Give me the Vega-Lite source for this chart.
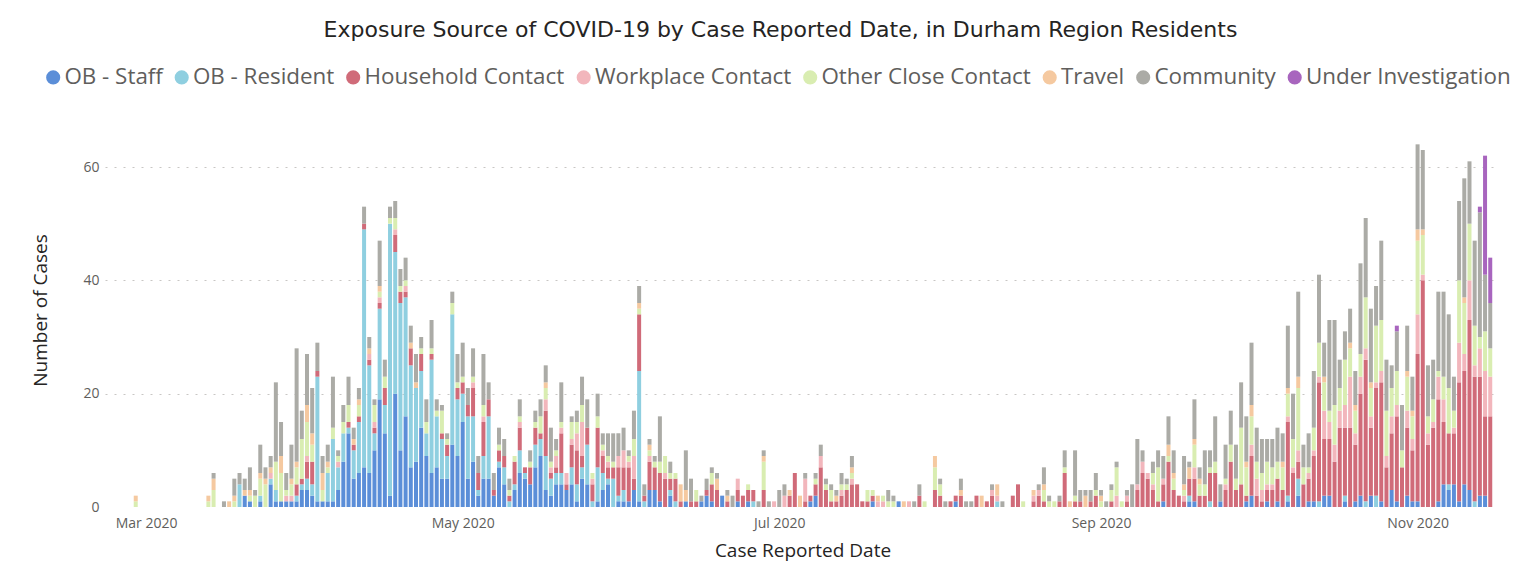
{
  "$schema": "https://vega.github.io/schema/vega-lite/v6.json",
  "width": 1395,
  "height": 374,
  "autosize": {"type": "none"},
  "padding": {"left": 105, "top": 133, "right": 24, "bottom": 60},
  "background": "white",
  "config": {"view": {"stroke": null}},
  "title": {
    "text": "Exposure Source of COVID-19 by Case Reported Date, in Durham Region Residents",
    "font": "DejaVu Sans",
    "fontSize": 22,
    "fontWeight": "normal",
    "color": "#252423",
    "anchor": "middle",
    "dx": -22,
    "offset": 24
  },
  "datasets": {
    "cats": [
      {"k": "s", "name": "OB - Staff", "ord": 1},
      {"k": "r", "name": "OB - Resident", "ord": 2},
      {"k": "h", "name": "Household Contact", "ord": 3},
      {"k": "w", "name": "Workplace Contact", "ord": 4},
      {"k": "o", "name": "Other Close Contact", "ord": 5},
      {"k": "t", "name": "Travel", "ord": 6},
      {"k": "c", "name": "Community", "ord": 7},
      {"k": "u", "name": "Under Investigation", "ord": 8}
    ]
  },
  "data": {"values": [
    {"d":"2020-02-28","o":1,"t":1},
    {"d":"2020-03-13","o":1,"t":1},
    {"d":"2020-03-14","o":3,"t":2,"c":1},
    {"d":"2020-03-16","c":1},
    {"d":"2020-03-17","t":1},
    {"d":"2020-03-18","o":1,"t":1,"c":3},
    {"d":"2020-03-19","r":4,"c":2},
    {"d":"2020-03-20","s":2,"t":1,"c":2},
    {"d":"2020-03-21","s":1,"o":1,"t":1,"c":4},
    {"d":"2020-03-22","o":2,"c":1},
    {"d":"2020-03-23","s":1,"r":1,"o":3,"t":1,"c":5},
    {"d":"2020-03-24","o":4,"t":1,"c":2},
    {"d":"2020-03-25","s":4,"r":1,"w":1,"t":1,"c":2},
    {"d":"2020-03-26","s":1,"r":2,"o":5,"c":14},
    {"d":"2020-03-27","s":1,"o":5,"t":3,"c":6},
    {"d":"2020-03-28","s":1,"w":1,"o":1,"c":3},
    {"d":"2020-03-29","s":1,"w":1,"o":2,"t":1,"c":6},
    {"d":"2020-03-30","s":1,"r":1,"h":2,"o":3,"t":1,"c":20},
    {"d":"2020-03-31","s":3,"r":1,"h":1,"o":7,"c":5},
    {"d":"2020-04-01","s":3,"r":2,"h":3,"w":1,"o":6,"t":3,"c":9},
    {"d":"2020-04-02","s":2,"r":2,"h":4,"o":3,"t":2,"c":8},
    {"d":"2020-04-03","s":1,"r":22,"h":1,"c":5},
    {"d":"2020-04-04","s":1,"o":2,"t":3,"c":3},
    {"d":"2020-04-05","s":1,"r":5,"o":1,"t":1,"c":3},
    {"d":"2020-04-06","s":1,"r":11,"o":2,"c":9},
    {"d":"2020-04-07","s":3,"r":4,"w":1,"o":1,"c":1},
    {"d":"2020-04-08","s":8,"r":5,"o":2,"c":3},
    {"d":"2020-04-09","s":13,"r":1,"h":1,"o":3,"c":5},
    {"d":"2020-04-10","s":5,"r":5,"h":1,"t":1,"c":2},
    {"d":"2020-04-11","s":6,"r":9,"h":1,"o":2,"t":1,"c":2},
    {"d":"2020-04-12","s":7,"r":42,"h":1,"c":3},
    {"d":"2020-04-13","s":6,"r":19,"h":1,"w":1,"t":1,"c":2},
    {"d":"2020-04-14","s":10,"r":3,"h":1,"w":1,"o":3,"c":1},
    {"d":"2020-04-15","s":19,"r":16,"h":1,"w":1,"o":1,"t":1,"c":8},
    {"d":"2020-04-16","s":13,"r":5,"h":3,"o":2,"c":3},
    {"d":"2020-04-17","s":2,"r":48,"o":1,"c":2},
    {"d":"2020-04-18","s":20,"r":25,"h":3,"w":1,"o":2,"c":3},
    {"d":"2020-04-19","s":10,"r":26,"h":2,"o":1,"c":3},
    {"d":"2020-04-20","s":16,"r":21,"h":1,"w":1,"o":1,"c":4},
    {"d":"2020-04-21","s":7,"r":18,"h":3,"t":1,"c":3},
    {"d":"2020-04-22","s":8,"r":13,"t":1,"c":5},
    {"d":"2020-04-23","s":14,"r":10,"h":3,"o":1,"c":2},
    {"d":"2020-04-24","s":9,"r":4,"o":2,"c":4},
    {"d":"2020-04-25","s":6,"r":20,"h":1,"o":1,"c":5},
    {"d":"2020-04-26","s":7,"r":9,"o":1,"c":2},
    {"d":"2020-04-27","s":5,"r":7,"h":1,"o":4,"c":1},
    {"d":"2020-04-28","s":5,"r":4,"h":2,"o":1,"c":1},
    {"d":"2020-04-29","s":11,"r":23,"o":2,"c":2},
    {"d":"2020-04-30","s":9,"r":10,"h":2,"o":1,"c":5},
    {"d":"2020-05-01","s":15,"r":5,"h":2,"o":1,"c":6},
    {"d":"2020-05-02","s":5,"r":11,"h":2,"c":3},
    {"d":"2020-05-03","s":8,"r":8,"h":5,"w":1,"o":1,"c":5},
    {"d":"2020-05-04","s":2,"r":1,"h":3,"c":3},
    {"d":"2020-05-05","s":5,"r":4,"h":6,"w":1,"o":2,"c":9},
    {"d":"2020-05-06","s":5,"r":11,"h":3,"c":3},
    {"d":"2020-05-07","s":2,"h":1,"c":3},
    {"d":"2020-05-08","s":7,"r":1,"h":2,"o":1,"c":3},
    {"d":"2020-05-09","s":4,"r":3,"h":2,"c":3},
    {"d":"2020-05-10","r":1,"h":1,"o":1,"c":2},
    {"d":"2020-05-11","s":3,"r":1,"h":4,"o":1},
    {"d":"2020-05-12","s":6,"r":4,"h":4,"w":1,"o":1,"c":3},
    {"d":"2020-05-13","s":5,"r":1,"h":1},
    {"d":"2020-05-14","s":4,"h":3,"o":1,"c":2},
    {"d":"2020-05-15","s":7,"r":4,"h":3,"o":1,"c":2},
    {"d":"2020-05-16","s":9,"r":3,"h":1,"o":3,"c":3},
    {"d":"2020-05-17","s":3,"r":6,"h":8,"w":2,"o":2,"t":1,"c":3},
    {"d":"2020-05-18","s":2,"r":3,"h":1,"w":1,"o":1,"c":6},
    {"d":"2020-05-19","s":4,"r":2,"h":1,"w":2,"o":1,"c":2},
    {"d":"2020-05-20","s":4,"r":2,"h":7,"w":1,"o":1,"c":7},
    {"d":"2020-05-21","s":3,"h":1,"w":2},
    {"d":"2020-05-22","s":4,"r":3,"h":4,"w":1,"o":3,"c":1},
    {"d":"2020-05-23","s":1,"r":3,"h":6,"w":3,"o":2,"c":2},
    {"d":"2020-05-24","s":5,"r":2,"h":2,"w":6,"o":3,"c":5},
    {"d":"2020-05-25","s":4,"r":7,"h":3,"c":5},
    {"d":"2020-05-26","r":1,"h":3,"w":1,"o":1},
    {"d":"2020-05-27","s":1,"r":6,"h":7,"o":2,"c":4},
    {"d":"2020-05-28","s":3,"r":3,"h":3,"w":1,"o":1,"c":2},
    {"d":"2020-05-29","s":4,"r":1,"h":2,"w":1,"o":1,"c":4},
    {"d":"2020-05-30","r":5,"h":2,"o":1,"c":5},
    {"d":"2020-05-31","s":1,"r":1,"h":5,"w":2,"c":4},
    {"d":"2020-06-01","s":1,"r":2,"h":4,"w":3,"c":4},
    {"d":"2020-06-02","s":1,"h":6,"w":1,"o":1,"c":1},
    {"d":"2020-06-03","s":3,"h":2,"w":4,"o":3,"c":5},
    {"d":"2020-06-04","s":1,"r":23,"h":10,"o":1,"t":1,"c":3},
    {"d":"2020-06-05","r":1,"h":1,"c":2},
    {"d":"2020-06-06","s":3,"h":5,"w":1,"o":1,"t":1,"c":1},
    {"d":"2020-06-07","s":3,"h":4,"o":1,"c":1},
    {"d":"2020-06-08","s":1,"h":5,"o":2,"c":8},
    {"d":"2020-06-09","h":5,"w":1,"o":3},
    {"d":"2020-06-10","s":2,"r":1,"h":2,"o":1,"c":2},
    {"d":"2020-06-11","r":1,"h":4,"o":1},
    {"d":"2020-06-12","h":1,"t":3},
    {"d":"2020-06-13","s":1,"t":2,"c":7},
    {"d":"2020-06-14","h":1,"c":4},
    {"d":"2020-06-15","h":1,"o":2},
    {"d":"2020-06-16","s":1,"c":1},
    {"d":"2020-06-17","s":2,"h":1,"c":2},
    {"d":"2020-06-18","s":1,"h":3,"o":2,"c":1},
    {"d":"2020-06-19","h":3,"t":2,"c":1},
    {"d":"2020-06-20","s":2},
    {"d":"2020-06-21","h":1,"t":1,"c":1},
    {"d":"2020-06-22","c":2},
    {"d":"2020-06-23","s":1,"h":2,"w":2},
    {"d":"2020-06-24","h":2},
    {"d":"2020-06-25","s":1,"h":2,"o":1},
    {"d":"2020-06-26","r":1,"h":2},
    {"d":"2020-06-27","c":1},
    {"d":"2020-06-28","h":3,"o":5,"t":1,"c":1},
    {"d":"2020-06-29","c":1},
    {"d":"2020-06-30","w":1},
    {"d":"2020-07-01","c":3},
    {"d":"2020-07-02","w":2,"c":2},
    {"d":"2020-07-03","h":2,"t":1},
    {"d":"2020-07-04","h":6},
    {"d":"2020-07-05","t":2},
    {"d":"2020-07-06","h":1,"w":4,"c":1},
    {"d":"2020-07-07","s":1,"h":1},
    {"d":"2020-07-08","s":2,"h":2,"o":1,"c":1},
    {"d":"2020-07-09","h":7,"w":2,"c":2},
    {"d":"2020-07-10","h":3,"o":1,"c":1},
    {"d":"2020-07-11","h":1,"o":2,"c":1},
    {"d":"2020-07-12","h":1,"t":1,"c":1},
    {"d":"2020-07-13","h":2,"w":1,"o":1,"c":2},
    {"d":"2020-07-14","h":3,"o":1,"c":1},
    {"d":"2020-07-15","h":4,"w":1,"o":1,"t":1,"c":2},
    {"d":"2020-07-16","h":4},
    {"d":"2020-07-17","h":1},
    {"d":"2020-07-18","h":1,"o":2},
    {"d":"2020-07-19","s":1,"h":1,"o":1},
    {"d":"2020-07-20","w":1,"t":1},
    {"d":"2020-07-21","w":1,"o":1},
    {"d":"2020-07-22","o":1,"c":2},
    {"d":"2020-07-23","o":1,"c":1},
    {"d":"2020-07-24","s":1},
    {"d":"2020-07-25","t":1},
    {"d":"2020-07-26","w":1},
    {"d":"2020-07-27","c":1},
    {"d":"2020-07-28","h":2,"c":2},
    {"d":"2020-07-29","o":1},
    {"d":"2020-07-31","h":3,"o":4,"t":2},
    {"d":"2020-08-01","h":2,"o":2,"c":1},
    {"d":"2020-08-02","c":1},
    {"d":"2020-08-03","h":1},
    {"d":"2020-08-04","s":1,"h":1},
    {"d":"2020-08-05","h":2,"t":1,"c":2},
    {"d":"2020-08-06","c":1},
    {"d":"2020-08-07","c":1},
    {"d":"2020-08-08","h":2},
    {"d":"2020-08-09","t":2},
    {"d":"2020-08-10","h":1},
    {"d":"2020-08-11","h":2,"w":1,"c":1},
    {"d":"2020-08-12","r":1,"w":1,"t":2},
    {"d":"2020-08-13","c":1},
    {"d":"2020-08-15","h":2},
    {"d":"2020-08-16","h":4},
    {"d":"2020-08-17","o":1},
    {"d":"2020-08-19","h":1,"w":1,"t":1},
    {"d":"2020-08-20","h":2,"w":1,"c":1},
    {"d":"2020-08-21","h":1,"o":2,"t":1,"c":3},
    {"d":"2020-08-22","o":1,"c":1},
    {"d":"2020-08-23","o":1},
    {"d":"2020-08-24","h":1,"c":1},
    {"d":"2020-08-25","h":6,"o":1,"c":3},
    {"d":"2020-08-26","t":1},
    {"d":"2020-08-27","h":1,"o":1,"c":8},
    {"d":"2020-08-28","h":1,"c":2},
    {"d":"2020-08-29","t":2,"c":1},
    {"d":"2020-08-30","h":1,"c":2},
    {"d":"2020-08-31","h":2,"o":1,"c":3},
    {"d":"2020-09-01","o":1,"t":1,"c":1},
    {"d":"2020-09-02","c":1},
    {"d":"2020-09-03","h":1,"o":2,"c":1},
    {"d":"2020-09-04","w":2,"o":5,"c":1},
    {"d":"2020-09-05","o":1},
    {"d":"2020-09-06","h":1,"w":1,"c":1},
    {"d":"2020-09-07","c":4},
    {"d":"2020-09-08","h":3,"w":1,"c":8},
    {"d":"2020-09-09","h":6,"w":2,"c":2},
    {"d":"2020-09-10","h":5,"w":1},
    {"d":"2020-09-11","h":3,"w":1,"o":2,"c":2},
    {"d":"2020-09-12","h":1,"o":6,"c":3},
    {"d":"2020-09-13","s":1,"h":3,"w":1,"c":4},
    {"d":"2020-09-14","h":8,"o":1,"t":2,"c":5},
    {"d":"2020-09-15","h":3,"o":2,"t":1,"c":4},
    {"d":"2020-09-16","h":2},
    {"d":"2020-09-17","h":1,"w":1,"o":1,"t":1,"c":5},
    {"d":"2020-09-18","s":1,"r":1,"h":3,"t":2,"c":1},
    {"d":"2020-09-19","s":1,"h":4,"w":2,"o":4,"t":1,"c":7},
    {"d":"2020-09-20","h":2,"o":2,"t":1,"c":2},
    {"d":"2020-09-21","h":2,"o":2,"c":6},
    {"d":"2020-09-22","r":1,"h":5,"o":1,"c":3},
    {"d":"2020-09-23","h":6,"o":2,"c":8},
    {"d":"2020-09-24","s":1,"c":3},
    {"d":"2020-09-25","h":3,"w":1,"o":1,"c":6},
    {"d":"2020-09-26","h":8,"o":3,"c":6},
    {"d":"2020-09-27","h":3,"o":2,"c":6},
    {"d":"2020-09-28","h":4,"o":10,"c":8},
    {"d":"2020-09-29","s":1,"h":1,"o":5,"t":1,"c":8},
    {"d":"2020-09-30","s":2,"h":7,"w":2,"o":5,"t":2,"c":11},
    {"d":"2020-10-01","h":2,"w":3,"o":3,"c":6},
    {"d":"2020-10-02","h":1,"w":2,"o":3,"c":6},
    {"d":"2020-10-03","s":1,"h":2,"w":1,"o":4,"c":4},
    {"d":"2020-10-04","h":3,"w":1,"o":3,"c":5},
    {"d":"2020-10-05","s":1,"h":4,"o":3,"c":6},
    {"d":"2020-10-06","h":3,"o":4,"t":1,"c":5},
    {"d":"2020-10-07","s":1,"r":1,"h":13,"w":1,"o":4,"t":1,"c":11},
    {"d":"2020-10-08","h":6,"w":1,"o":5,"c":8},
    {"d":"2020-10-09","s":2,"r":3,"h":3,"w":2,"o":11,"t":2,"c":15},
    {"d":"2020-10-10","h":4,"o":3,"c":4},
    {"d":"2020-10-11","s":1,"h":4,"w":1,"o":1,"c":6},
    {"d":"2020-10-12","s":1,"h":8,"w":1,"o":4,"c":10},
    {"d":"2020-10-13","r":1,"h":21,"w":1,"o":6,"c":12},
    {"d":"2020-10-14","s":2,"h":10,"w":5,"o":5,"t":1,"c":6},
    {"d":"2020-10-15","s":2,"h":10,"w":3,"o":2,"c":16},
    {"d":"2020-10-16","h":8,"w":3,"o":7,"c":15},
    {"d":"2020-10-17","h":14,"w":3,"o":4,"c":5},
    {"d":"2020-10-18","s":1,"r":1,"h":12,"w":4,"o":8,"c":5},
    {"d":"2020-10-19","h":14,"w":9,"o":5,"t":1,"c":6},
    {"d":"2020-10-20","s":1,"h":10,"w":2,"o":4,"t":1,"c":6},
    {"d":"2020-10-21","s":2,"h":18,"w":3,"o":4,"c":16},
    {"d":"2020-10-22","r":1,"h":25,"w":2,"o":9,"c":14},
    {"d":"2020-10-23","s":2,"h":12,"w":2,"o":5,"t":1,"c":13},
    {"d":"2020-10-24","r":2,"h":19,"w":1,"o":10,"c":7},
    {"d":"2020-10-25","s":1,"h":21,"w":2,"o":9,"c":14},
    {"d":"2020-10-26","h":7,"w":2,"o":8,"c":9},
    {"d":"2020-10-27","s":3,"h":10,"w":3,"o":5,"c":4},
    {"d":"2020-10-28","s":1,"h":15,"w":2,"o":6,"c":7,"u":1},
    {"d":"2020-10-29","h":7,"o":3,"c":8},
    {"d":"2020-10-30","s":2,"h":12,"w":3,"o":6,"t":1,"c":8},
    {"d":"2020-10-31","s":1,"h":9,"w":2,"o":4,"t":1,"c":6},
    {"d":"2020-11-01","s":1,"h":26,"w":7,"o":13,"t":2,"c":15},
    {"d":"2020-11-02","h":40,"w":1,"o":7,"t":1,"c":14},
    {"d":"2020-11-03","h":11,"w":2,"o":3,"c":9},
    {"d":"2020-11-04","h":14,"w":1,"o":4,"c":7},
    {"d":"2020-11-05","s":1,"h":18,"w":4,"o":1,"c":14},
    {"d":"2020-11-06","s":4,"h":11,"w":4,"o":4,"c":15},
    {"d":"2020-11-07","s":3,"r":1,"h":9,"o":8,"c":13},
    {"d":"2020-11-08","s":4,"h":9,"w":1,"o":3,"c":6},
    {"d":"2020-11-09","s":1,"h":21,"w":7,"o":11,"c":14},
    {"d":"2020-11-10","s":4,"h":20,"w":3,"o":9,"t":1,"c":21},
    {"d":"2020-11-11","s":3,"h":30,"w":7,"o":10,"c":11},
    {"d":"2020-11-12","r":1,"h":22,"w":2,"o":7,"c":15},
    {"d":"2020-11-13","s":2,"h":21,"w":5,"o":2,"c":22,"u":1},
    {"d":"2020-11-14","s":2,"h":14,"w":8,"o":7,"c":10,"u":21},
    {"d":"2020-11-15","h":16,"w":7,"o":5,"c":8,"u":8}
  ]},
  "transform": [
    {"fold": ["s", "r", "h", "w", "o", "t", "c", "u"], "as": ["k", "n"]},
    {"filter": "datum.n > 0"},
    {"lookup": "k", "from": {"data": {"name": "cats"}, "key": "k", "fields": ["name", "ord"]}}
  ],
  "mark": {"type": "bar", "width": 4},
  "encoding": {
    "x": {
      "field": "d",
      "type": "temporal",
      "title": "Case Reported Date",
      "scale": {
        "type": "utc",
        "domain": [
          {"year": 2020, "month": 2, "date": 23, "hours": 1, "utc": true},
          {"year": 2020, "month": 11, "date": 15, "hours": 22, "utc": true}
        ]
      },
      "axis": {
        "values": [
          {"year": 2020, "month": 3, "date": 1, "utc": true},
          {"year": 2020, "month": 5, "date": 1, "utc": true},
          {"year": 2020, "month": 7, "date": 1, "utc": true},
          {"year": 2020, "month": 9, "date": 1, "utc": true},
          {"year": 2020, "month": 11, "date": 1, "utc": true}
        ],
        "format": "%b %Y",
        "labelFont": "Open Sans",
        "labelFontSize": 14,
        "labelColor": "#605E5C",
        "ticks": false,
        "tickSize": 0,
        "domain": false,
        "grid": false,
        "labelPadding": 9,
        "titleFont": "Open Sans",
        "titleFontSize": 19,
        "titleFontWeight": "normal",
        "titleColor": "#252423",
        "titleY": 43,
        "titleBaseline": "middle"
      }
    },
    "y": {
      "field": "n",
      "type": "quantitative",
      "stack": "zero",
      "title": "Number of Cases",
      "scale": {"domain": [0, 66], "nice": false},
      "axis": {
        "values": [0, 20, 40, 60],
        "labelFont": "Open Sans",
        "labelFontSize": 14,
        "labelColor": "#605E5C",
        "ticks": false,
        "tickSize": 0,
        "domain": false,
        "labelPadding": 6,
        "grid": true,
        "gridDash": [2, 7],
        "gridColor": "#C8C6C4",
        "gridOpacity": {"condition": {"test": "datum.value === 0", "value": 0}, "value": 1},
        "titleFont": "Open Sans",
        "titleFontSize": 19,
        "titleFontWeight": "normal",
        "titleColor": "#252423",
        "titleX": -65,
        "titleY": 177,
        "titleAlign": "center",
        "titleBaseline": "middle"
      }
    },
    "color": {
      "field": "name",
      "type": "nominal",
      "scale": {
        "domain": ["OB - Staff", "OB - Resident", "Household Contact", "Workplace Contact", "Other Close Contact", "Travel", "Community", "Under Investigation"],
        "range": ["#5B8ED8", "#8FCFE0", "#D06B79", "#F2B6BC", "#D9EDB1", "#F5C9A0", "#ABABA6", "#A865BE"]
      },
      "legend": {
        "orient": "none",
        "legendX": -63,
        "legendY": -67,
        "direction": "horizontal",
        "title": null,
        "symbolType": "circle",
        "symbolSize": 200,
        "symbolStrokeWidth": 0,
        "labelFont": "Open Sans",
        "labelFontSize": 22.4,
        "labelColor": "#605E5C",
        "labelLimit": 400,
        "labelOffset": 0,
        "columnPadding": 7.5
      }
    },
    "order": {"field": "ord", "type": "quantitative"}
  }
}
